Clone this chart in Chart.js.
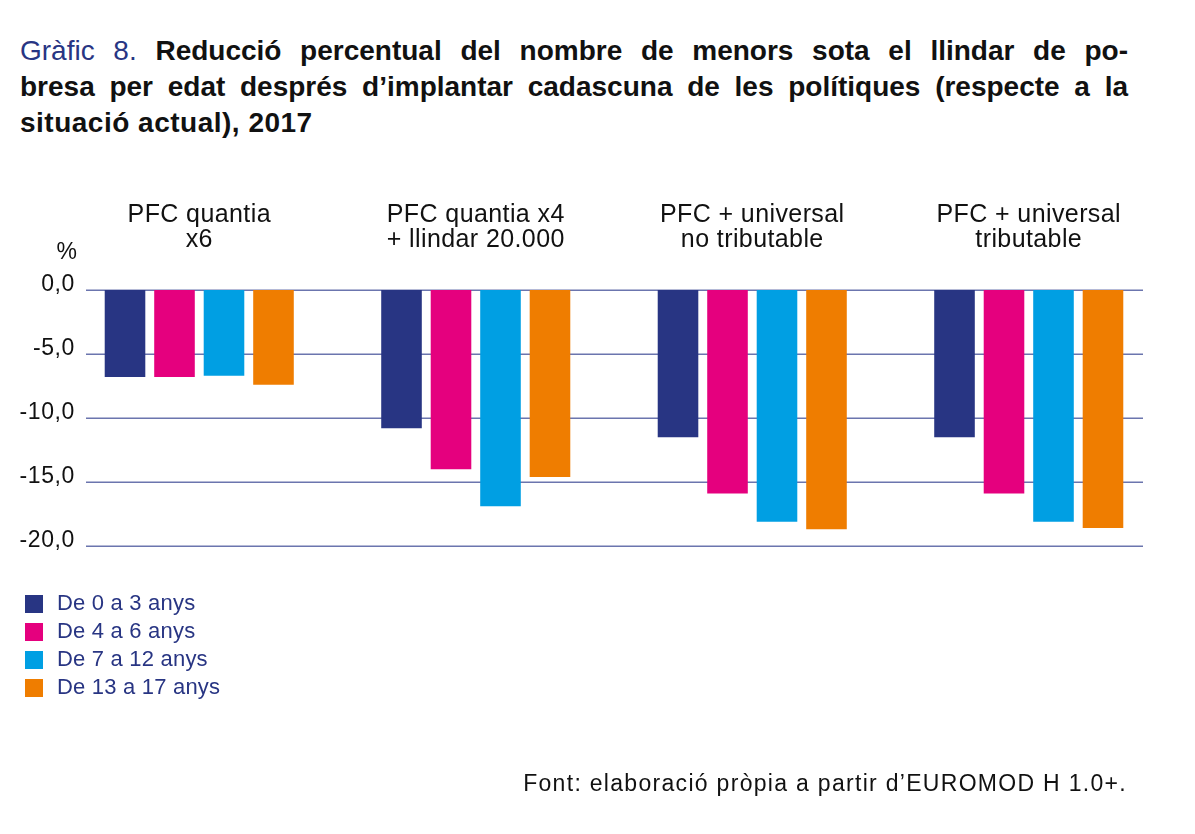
<!DOCTYPE html>
<html>
<head>
<meta charset="utf-8">
<script src="https://cdn.jsdelivr.net/npm/chart.js@4.4.1/dist/chart.umd.min.js"></script>
<style>
  html, body { margin: 0; padding: 0; background: #fff; }
  body { width: 1195px; height: 834px; position: relative; overflow: hidden; font-family: 'Liberation Sans', Arial, sans-serif; }
  #chart { position: absolute; left: 0; top: 0; }
  .title { position: absolute; left: 20px; top: 33px; width: 1108px; font-size: 28px; line-height: 36px; color: #111; font-weight: bold; }
  .title div { text-align: justify; text-align-last: justify; }
  .title div.last { text-align-last: left; letter-spacing: 0.5px; }
  .title .lead { color: #283583; font-weight: normal; }
  #legend { position: absolute; left: 25px; top: 595px; }
  .lg { height: 28px; position: relative; font-size: 22px; color: #283583; }
  .lg span.sw { position: absolute; left: 0; top: 0; width: 18px; height: 18px; }
  .lg span.tx { position: absolute; left: 32px; top: -4px; line-height: 24px; white-space: nowrap; letter-spacing: 0.2px; }
  .source { position: absolute; right: 68px; top: 770px; font-size: 23px; letter-spacing: 1.3px; color: #111; white-space: nowrap; }
</style>
</head>
<body>
<div class="title">
  <div><span class="lead">Gràfic 8.</span> Reducció percentual del nombre de menors sota el llindar de po-</div>
  <div>bresa per edat després d’implantar cadascuna de les polítiques (respecte a la</div>
  <div class="last">situació actual), 2017</div>
</div>
<canvas id="chart" width="1195" height="834"></canvas>
<div id="legend"></div>
<div class="source">Font: elaboració pròpia a partir d’EUROMOD H 1.0+.</div>
<script>
// policies (two-line headers above each group)
const categories = [['PFC quantia', 'x6'], ['PFC quantia x4', '+ llindar 20.000'], ['PFC + universal', 'no tributable'], ['PFC + universal', 'tributable']];
const seriesLabels = ['De 0 a 3 anys', 'De 4 a 6 anys', 'De 7 a 12 anys', 'De 13 a 17 anys'];
const seriesColors = ['#283583', '#e5007e', '#009fe3', '#ef7d00'];
// % change in minors below poverty line
const age0to3 = [-6.8, -10.8, -11.5, -11.5];
const age4to6 = [-6.8, -14.0, -15.9, -15.9];
const age7to12 = [-6.7, -16.9, -18.1, -18.1];
const age13to17 = [-7.4, -14.6, -18.7, -18.6];
const yTicks = [0, -5, -10, -15, -20];
const yTickLabels = ['0,0', '-5,0', '-10,0', '-15,0', '-20,0'];

const allSeries = [age0to3, age4to6, age7to12, age13to17];

const decor = {
  id: 'decor',
  beforeDatasetsDraw(chart) {
    const ctx = chart.ctx, y = chart.scales.y, x = chart.scales.x, area = chart.chartArea;
    ctx.save();
    ctx.strokeStyle = '#6b75ae'; ctx.lineWidth = 1.5;
    yTicks.forEach(t => {
      const py = Math.round(y.getPixelForValue(t)) + 0.25;
      ctx.beginPath(); ctx.moveTo(86, py); ctx.lineTo(1143, py); ctx.stroke();
    });
    ctx.fillStyle = '#111'; ctx.font = '23px "Liberation Sans", Arial, sans-serif';
    ctx.letterSpacing = '0.6px';
    ctx.textAlign = 'right'; ctx.textBaseline = 'middle';
    yTicks.forEach((t, i) => ctx.fillText(yTickLabels[i], 75, y.getPixelForValue(t) - 5));
    ctx.textAlign = 'center'; ctx.textBaseline = 'alphabetic';
    ctx.fillText('%', 67, area.top - 31);
    ctx.font = '25px "Liberation Sans", Arial, sans-serif';
    ctx.letterSpacing = '0.4px';
    categories.forEach((c, i) => {
      const cx = x.getPixelForValue(i);
      ctx.fillText(c[0], cx, area.top - 68);
      ctx.fillText(c[1], cx, area.top - 43);
    });
    ctx.restore();
  }
};

new Chart(document.getElementById('chart').getContext('2d'), {
  type: 'bar',
  data: {
    labels: categories.map(c => c.join(' ')),
    datasets: allSeries.map((d, i) => ({ label: seriesLabels[i], data: d, backgroundColor: seriesColors[i], borderWidth: 0, categoryPercentage: 0.716, barPercentage: 0.82 }))
  },
  options: {
    responsive: false, animation: false, devicePixelRatio: 1,
    layout: { padding: { left: 61, right: 28, top: 290, bottom: 288 } },
    plugins: { legend: { display: false }, tooltip: { enabled: false } },
    scales: {
      x: { display: false },
      y: { display: false, min: -20, max: 0 }
    }
  },
  plugins: [decor]
});

const lg = document.getElementById('legend');
seriesLabels.forEach((s, i) => {
  const row = document.createElement('div');
  row.className = 'lg';
  row.innerHTML = `<span class="sw" style="background:${seriesColors[i]}"></span><span class="tx">${s}</span>`;
  lg.appendChild(row);
});
</script>
</body>
</html>
